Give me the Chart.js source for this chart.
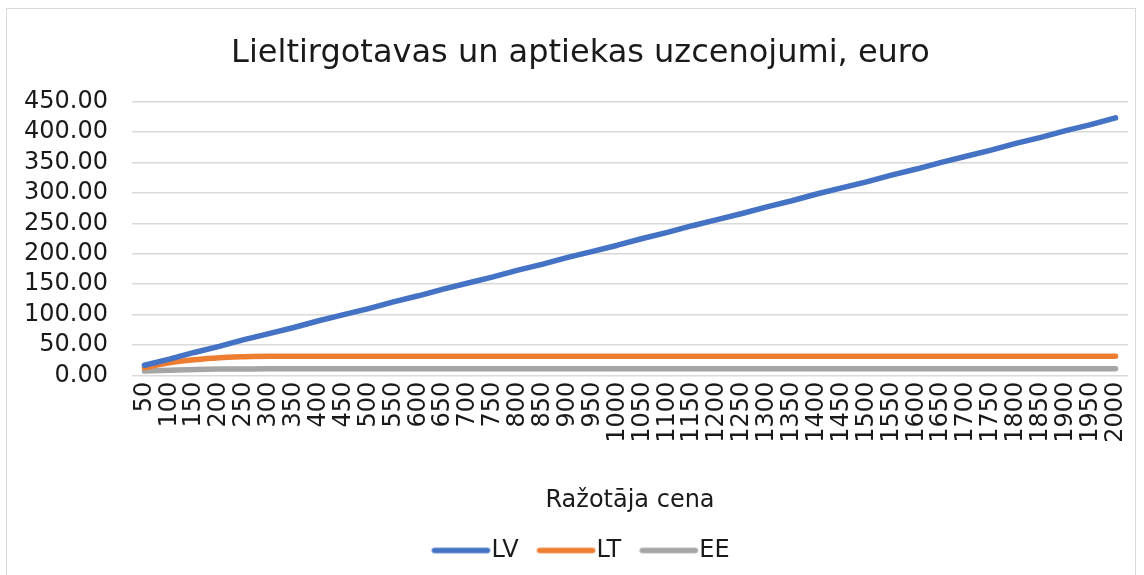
<!DOCTYPE html>
<html>
<head>
<meta charset="utf-8">
<script src="https://cdn.jsdelivr.net/npm/chart.js@4/dist/chart.umd.min.js"></script>
<style>
    body { margin: 0; background: #fff; }
    #wrap {
        position: absolute;
        left: 6px;
        top: 8px;
        width: 1130px;
        height: 570px;
        border: 1px solid #d9d9d9;
        box-sizing: border-box;
    }
</style>
</head>
<body>
<div id="wrap"><canvas id="chart"></canvas></div>
<script>
// Chart data
const prices = [50, 100, 150, 200, 250, 300, 350, 400, 450, 500, 550, 600, 650, 700, 750, 800,
    850, 900, 950, 1000, 1050, 1100, 1150, 1200, 1250, 1300, 1350, 1400, 1450, 1500, 1550,
    1600, 1650, 1700, 1750, 1800, 1850, 1900, 1950, 2000];

const lvValues = [17, 27, 38, 48, 59, 69, 79, 90, 100, 110, 121, 131, 142, 152, 162, 173,
    183, 194, 204, 214, 225, 235, 246, 256, 266, 277, 287, 298, 308, 318, 329,
    339, 350, 360, 370, 381, 391, 402, 412, 423];

const ltValues = [13, 21, 26, 29.5, 31, 31.7, 31.7, 31.7, 31.7, 31.7, 31.7, 31.7, 31.7, 31.7, 31.7, 31.7,
    31.7, 31.7, 31.7, 31.7, 31.7, 31.7, 31.7, 31.7, 31.7, 31.7, 31.7, 31.7, 31.7, 31.7, 31.7,
    31.7, 31.7, 31.7, 31.7, 31.7, 31.7, 31.7, 31.7, 31.7];

const eeValues = [7.5, 9, 10, 10.7, 11, 11.2, 11.2, 11.2, 11.2, 11.2, 11.2, 11.2, 11.2, 11.2, 11.2, 11.2,
    11.2, 11.2, 11.2, 11.2, 11.2, 11.2, 11.2, 11.2, 11.2, 11.2, 11.2, 11.2, 11.2, 11.2, 11.2,
    11.2, 11.2, 11.2, 11.2, 11.2, 11.2, 11.2, 11.2, 11.2];

const seriesNames = ['LV', 'LT', 'EE'];
const yTicks = [0, 50, 100, 150, 200, 250, 300, 350, 400, 450];

const colors = {
    lv: '#4472c4',
    lt: '#ed7d31',
    ee: '#a5a5a5',
    grid: '#d9d9d9',
    text: '#1a1a1a'
};
const fontFamily = '"DejaVu Sans", Verdana, sans-serif';

// legend marker: a short thick line sitting left in a wider transparent image,
// so the label text comes close after it
function legendLine(color) {
    const c = document.createElement('canvas');
    c.width = 96;
    c.height = 10;
    const g = c.getContext('2d');
    g.strokeStyle = color;
    g.lineWidth = 5.5;
    g.lineCap = 'round';
    g.beginPath();
    g.moveTo(27, 5);
    g.lineTo(80, 5);
    g.stroke();
    return c;
}

function lineSet(label, data, color, smooth) {
    return {
        label: label,
        data: data,
        borderColor: color,
        backgroundColor: color,
        borderWidth: 5.5,
        borderCapStyle: 'round',
        borderJoinStyle: 'round',
        pointRadius: 0,
        pointHoverRadius: 0,
        pointStyle: legendLine(color),
        cubicInterpolationMode: smooth ? 'monotone' : 'default',
        tension: 0,
        fill: false
    };
}

// title and legend sit a bit right of the canvas centre in the original
const shiftBoxes = {
    id: 'shiftBoxes',
    afterLayout(chart) {
        const dx = 13;
        [chart.titleBlock, chart.legend].forEach(box => {
            if (box) {
                box.left += dx;
                box.right += dx;
            }
        });
    }
};

new Chart(document.getElementById('chart'), {
    type: 'line',
    data: {
        labels: prices,
        datasets: [
            lineSet(seriesNames[0], lvValues, colors.lv, false),
            lineSet(seriesNames[1], ltValues, colors.lt, true),
            lineSet(seriesNames[2], eeValues, colors.ee, true)
        ]
    },
    options: {
        responsive: true,
        maintainAspectRatio: false,
        animation: false,
        layout: {
            padding: { left: 0, right: 7, top: 0, bottom: 4.5 }
        },
        plugins: {
            title: {
                display: true,
                text: 'Lieltirgotavas un aptiekas uzcenojumi, euro',
                color: colors.text,
                font: { family: fontFamily, size: 32, weight: 'normal' },
                padding: { top: 25, bottom: 29 }
            },
            legend: {
                position: 'bottom',
                labels: {
                    color: colors.text,
                    font: { family: fontFamily, size: 24 },
                    usePointStyle: true,
                    pointStyleWidth: 48,
                    boxHeight: 10,
                    padding: 18
                }
            },
            tooltip: { enabled: false }
        },
        scales: {
            x: {
                offset: true,
                grid: { display: false, drawTicks: false },
                border: { display: false },
                ticks: {
                    color: colors.text,
                    font: { family: fontFamily, size: 24 },
                    autoSkip: false,
                    maxRotation: 90,
                    minRotation: 90,
                    padding: 6
                },
                title: {
                    display: true,
                    text: 'Ražotāja cena',
                    color: colors.text,
                    font: { family: fontFamily, size: 24 },
                    padding: { top: 38, bottom: 5 }
                },
                afterFit: (axis) => {
                    axis.paddingLeft = 0;
                    axis.paddingRight = 0;
                }
            },
            y: {
                min: 0,
                max: 450,
                afterBuildTicks: (axis) => {
                    axis.ticks = yTicks.map(v => ({ value: v }));
                },
                afterFit: (axis) => {
                    axis.width = 125;
                },
                grid: { color: colors.grid, lineWidth: 1.5, drawTicks: false },
                border: { display: false },
                ticks: {
                    color: colors.text,
                    font: { family: fontFamily, size: 24 },
                    autoSkip: false,
                    padding: 24,
                    callback: (value) => Number(value).toFixed(2)
                }
            }
        }
    },
    plugins: [shiftBoxes]
});
</script>
</body>
</html>
